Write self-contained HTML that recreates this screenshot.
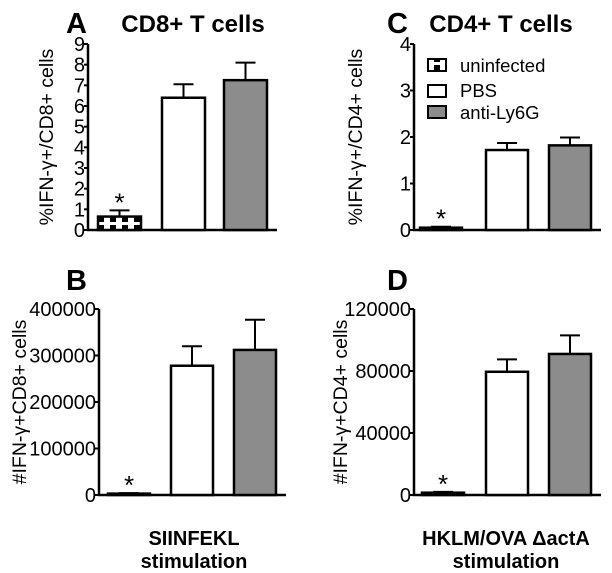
<!DOCTYPE html>
<html><head><meta charset="utf-8"><style>
html,body{margin:0;padding:0;background:#fff;}
svg{display:block;font-family:"Liberation Sans",Arial,sans-serif;}
</style></head><body>
<svg id="fig" width="612" height="573" viewBox="0 0 612 573" xmlns="http://www.w3.org/2000/svg">
<defs>
<pattern id="hatch" width="12" height="8" patternUnits="userSpaceOnUse">
<rect width="12" height="8" fill="#fff"/>
<rect x="2" y="1" width="6" height="5" fill="#000"/>
</pattern>
</defs>
<g id="static">
<text x="66" y="33" font-size="29" font-weight="bold">A</text>
<text x="193" y="32" font-size="24" font-weight="bold" text-anchor="middle">CD8+ T cells</text>
<text x="387" y="33" font-size="29" font-weight="bold">C</text>
<text x="501" y="32" font-size="24" font-weight="bold" text-anchor="middle">CD4+ T cells</text>
<text x="66" y="290" font-size="29" font-weight="bold">B</text>
<text x="387" y="290" font-size="29" font-weight="bold">D</text>
<text x="194" y="545" font-size="20" font-weight="bold" text-anchor="middle">SIINFEKL</text>
<text x="194" y="568" font-size="20" font-weight="bold" text-anchor="middle">stimulation</text>
<text x="506" y="545" font-size="20" font-weight="bold" text-anchor="middle">HKLM/OVA ΔactA</text>
<text x="506" y="568" font-size="20" font-weight="bold" text-anchor="middle">stimulation</text>
<g>
<rect x="428" y="59" width="18" height="12" fill="url(#hatch)" stroke="#000" stroke-width="2"/>
<text x="460" y="72" font-size="18.5">uninfected</text>
<rect x="428" y="85" width="18" height="12" fill="#fff" stroke="#000" stroke-width="2"/>
<text x="460" y="97" font-size="18.5">PBS</text>
<rect x="428" y="106" width="18" height="12" fill="#8c8c8c" stroke="#000" stroke-width="2"/>
<text x="460" y="119" font-size="18.5">anti-Ly6G</text>
</g>
</g>
</svg>
<script>
const groups = ["uninfected","PBS","anti-Ly6G"];
const aValues = [0.65, 6.4, 7.25];
const aErrors = [0.3, 0.65, 0.85];
const aTicks = ["0","1","2","3","4","5","6","7","8","9"];
const cValues = [0.05, 1.72, 1.82];
const cErrors = [0.02, 0.15, 0.17];
const cTicks = ["0","1","2","3","4"];
const bValues = [3000, 278000, 312000];
const bErrors = [1000, 42000, 65000];
const bTicks = ["0","100000","200000","300000","400000"];
const dValues = [1500, 79500, 91000];
const dErrors = [500, 8000, 12000];
const dTicks = ["0","40000","80000","120000"];

const NS = "http://www.w3.org/2000/svg";
const svg = document.getElementById('fig');
function mk(tag, attrs, parent){
  const e = document.createElementNS(NS, tag);
  for (const k in attrs) e.setAttribute(k, attrs[k]);
  (parent||svg).appendChild(e);
  return e;
}
const fills = ["url(#hatch)", "#fff", "#8c8c8c"];
function panel(id, cfg, values, errors, ticks){
  const g = mk('g', {});
  
  
  const maxV = Number(ticks[ticks.length-1]);
  const y = v => cfg.y0 - (v / maxV) * (cfg.y0 - cfg.yTop);
  const ax = mk('path', {d:`M${cfg.ax} ${cfg.yTop} V${cfg.y0} H${cfg.xEnd}`, fill:'none', stroke:'#000', 'stroke-width':2.5}, g);
  
  
  ticks.forEach(t => {
    const ty = y(Number(t));
    const tk = mk('line', {x1:cfg.ax-4, x2:cfg.ax, y1:ty, y2:ty, stroke:'#000', 'stroke-width':2}, g);
    
    
    const tl = mk('text', {x:cfg.ax-3, y:ty+7, 'font-size':20, 'text-anchor':'end'}, g);
    tl.textContent = t;
    
    
  });
  const yt = mk('text', {x:0, y:0, 'font-size':19.5, 'text-anchor':'middle', transform:`translate(${cfg.titleX},${(cfg.yTop+cfg.y0)/2}) rotate(-90)`}, g);
  yt.textContent = cfg.title;
  
  
  values.forEach((v, i) => {
    const bx = cfg.barX[i], bw = cfg.barW;
    const top = y(v + errors[i]), vt = y(v);
    const eb = mk('path', {d:`M${bx+bw/2} ${vt} V${top} M${bx+bw/2-10} ${top} H${bx+bw/2+10}`, stroke:'#000', 'stroke-width':2, fill:'none'}, g);
    
    
    const r = mk('rect', {x:bx, y:vt, width:bw, height:Math.max(cfg.y0 - vt, 1), fill: fills[i], stroke:'#000', 'stroke-width':2.5}, g);
    
    
    if (i === 0) {
      const s = mk('text', {x:bx+bw/2, y:top+1, 'font-size':26, 'text-anchor':'middle'}, g);
      s.textContent = '*';
      
      
    }
  });
}
panel('a', {ax:88, yTop:44, y0:230, xEnd:277, barX:[98,162,224], barW:43, titleX:53, title:'%IFN-γ+/CD8+ cells'}, aValues, aErrors, aTicks);
panel('c', {ax:414, yTop:44, y0:230, xEnd:601, barX:[420,486,549], barW:42, titleX:362, title:'%IFN-γ+/CD4+ cells'}, cValues, cErrors, cTicks);
panel('b', {ax:99, yTop:309, y0:495, xEnd:286, barX:[108,171,234], barW:42, titleX:26, title:'#IFN-γ+CD8+ cells'}, bValues, bErrors, bTicks);
panel('d', {ax:414, yTop:309, y0:495, xEnd:601, barX:[422,486,549], barW:42, titleX:347, title:'#IFN-γ+CD4+ cells'}, dValues, dErrors, dTicks);
</script>
</body></html>
